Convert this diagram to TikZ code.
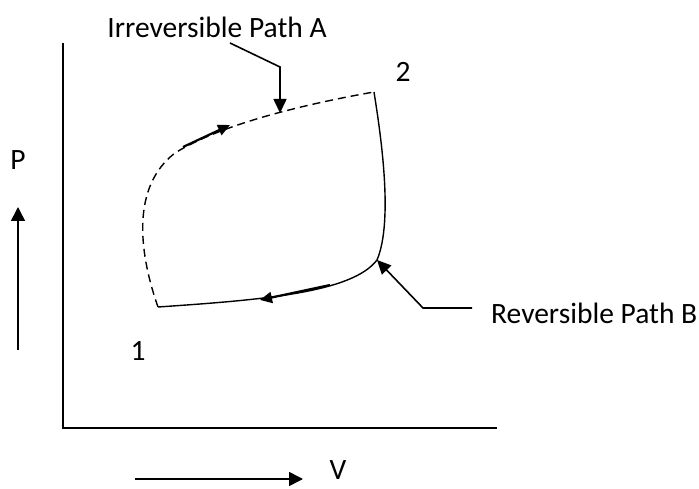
\documentclass[tikz,border=0pt]{standalone}
\usepackage{fontspec}
\setmainfont{Carlito}
\usetikzlibrary{arrows.meta,positioning}

\tikzset{
  axis/.style={line width=2pt},
  leader/.style={line width=1.6pt,-{Triangle[length=14pt,width=13pt]}},
  dirarrow/.style={line width=1.6pt,-{Triangle[length=14pt,width=14pt]}},
  flow/.style={line width=2.2pt,-{Triangle[length=12pt,width=11pt]}},
  irrpath/.style={line width=1.4pt,dash pattern=on 8pt off 5pt},
  revpath/.style={line width=1.4pt},
  lbl/.style={inner sep=0pt,font=\fontsize{29.5}{34}\selectfont}
}

\begin{document}
\begin{tikzpicture}[x=1pt,y=-1pt]
  \useasboundingbox (0,0) rectangle (699,489);
  % axes
  \coordinate (top) at (63,43);
  \coordinate (origin) at (63,428);
  \coordinate (right) at (497,428);
  \draw[axis] (top) -- (origin) -- (right);

  % direction arrows and labels
  \node[lbl] (labP) at (18,160) {P};
  \coordinate (pFrom) at (18,350);
  \coordinate (pTo) at (18,207);
  \draw[dirarrow] (pFrom) -- (pTo);
  \node[lbl] (labV) at (338,470) {V};
  \coordinate (vFrom) at (135,479);
  \coordinate (vTo) at (303,479);
  \draw[dirarrow] (vFrom) -- (vTo);

  % states
  \coordinate (s1) at (158,307);
  \coordinate (s2) at (374,92);
  \node[lbl] (lab1) at (138,351) {1};
  \node[lbl] (lab2) at (403,72) {2};

  % path A (irreversible), 1 -> 2
  \draw[irrpath] (s1) .. controls (138,250) and (132,186) .. (175,153)
    .. controls (220,125) and (300,105) .. (s2);
  \coordinate (aFrom) at (183,147);
  \coordinate (aTo) at (230,125);
  \draw[flow] (aFrom) -- (aTo);

  % path B (reversible), 2 -> 1
  \draw[revpath] (s2) .. controls (380,130) and (394,220) .. (377,260)
    .. controls (352,293) and (260,300) .. (s1);
  \coordinate (bFrom) at (330,285);
  \coordinate (bTo) at (260,300);
  \draw[flow] (bFrom) -- (bTo);

  % callouts
  \node[lbl] (irrA) at (217,27) {Irreversible Path A};
  \coordinate (aStart) at (230,43);
  \coordinate (aBend) at (280,67);
  \coordinate (aTip) at (280,113);
  \draw[leader] (aStart) -- (aBend) -- (aTip);

  \node[lbl,anchor=west] (revB) at (491,313) {Reversible Path B};
  \coordinate (bStart) at (472,308);
  \coordinate (bBend) at (423,308);
  \coordinate (bTip) at (377,260);
  \draw[leader] (bStart) -- (bBend) -- (bTip);
\end{tikzpicture}
\end{document}
